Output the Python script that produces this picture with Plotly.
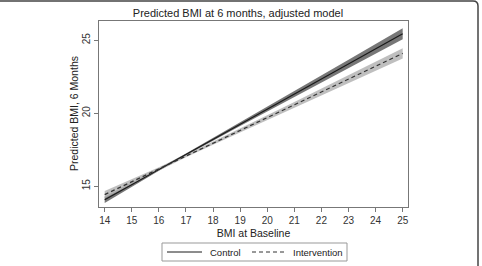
import plotly.graph_objects as go

# Data
bmi_baseline = [14, 15, 16, 17, 18, 19, 20, 21, 22, 23, 24, 25]
control_fit = [14.08, 15.11, 16.15, 17.18, 18.22, 19.25, 20.28, 21.32, 22.35, 23.39, 24.42, 25.45]
control_lo = [13.86, 14.97, 16.07, 17.11, 18.13, 19.13, 20.12, 21.12, 22.11, 23.11, 24.09, 25.07]
control_hi = [14.30, 15.25, 16.23, 17.25, 18.31, 19.37, 20.44, 21.52, 22.59, 23.67, 24.75, 25.83]
interv_fit = [14.43, 15.31, 16.19, 17.07, 17.95, 18.83, 19.71, 20.59, 21.47, 22.34, 23.22, 24.10]
interv_lo = [14.18, 15.14, 16.08, 16.98, 17.85, 18.71, 19.56, 20.40, 21.24, 22.07, 22.91, 23.75]
interv_hi = [14.68, 15.48, 16.30, 17.16, 18.05, 18.95, 19.86, 20.78, 21.70, 22.61, 23.53, 24.45]
series_names = ["Control", "Intervention"]
x_ticks = list(range(14, 26))
y_ticks = [15, 20, 25]

W, H = 482, 266
ML, MR, MT, MB = 99, 74, 21, 59
FONT = "Liberation Sans, Arial, sans-serif"
TXT = "#222222"

fig = go.Figure()

def band(x, lo, hi, color):
    return go.Scatter(x=list(x) + list(x)[::-1], y=list(hi) + list(lo)[::-1],
                      fill="toself", fillcolor=color, line=dict(width=0),
                      mode="lines", hoverinfo="skip", showlegend=False)

CTRL_LINE = dict(color="#1a1a1a", width=1.2)
INT_LINE = dict(color="#333333", width=1.2, dash="4px,3px")

fig.add_trace(band(bmi_baseline, control_lo, control_hi, "rgba(95,95,95,0.85)"))
fig.add_trace(band(bmi_baseline, interv_lo, interv_hi, "rgba(180,180,180,0.85)"))
fig.add_trace(go.Scatter(x=bmi_baseline, y=control_fit, mode="lines", name=series_names[0],
                         line=CTRL_LINE, showlegend=False))
fig.add_trace(go.Scatter(x=bmi_baseline, y=interv_fit, mode="lines", name=series_names[1],
                         line=INT_LINE, showlegend=False))

pw = W - ML - MR
ph = H - MT - MB
def px(xp):
    return (xp - ML) / pw
def py(yp):
    return (H - MB - yp) / ph

# outer frame (top and right edges with a rounded corner)
r = 5
frame_path = (f"M {px(0)},{py(1)} L {px(478 - r)},{py(1)} "
              f"Q {px(478)},{py(1)} {px(478)},{py(1 + r)}")
fig.add_shape(type="path", path=frame_path, xref="paper", yref="paper",
              line=dict(color="#444444", width=1.5))
fig.add_shape(type="line", xref="paper", yref="paper", x0=px(478), x1=px(478),
              y0=py(1 + r), y1=py(267), line=dict(color="#444444", width=1.5))

# y axis title
fig.add_annotation(text="Predicted BMI, 6 Months", xref="paper", yref="paper",
                   x=px(74), y=py(114), textangle=-90, showarrow=False,
                   xanchor="center", yanchor="middle",
                   font=dict(size=10.5, color=TXT))

# legend box (drawn manually)
fig.add_shape(type="rect", xref="paper", yref="paper",
              x0=px(162), x1=px(347), y0=py(243), y1=py(261),
              line=dict(color="#999999", width=1), fillcolor="white")
ly = py(252)
fig.add_shape(type="line", xref="paper", yref="paper", x0=px(167), x1=px(202), y0=ly, y1=ly,
              line=dict(color=CTRL_LINE["color"], width=1))
fig.add_shape(type="line", xref="paper", yref="paper", x0=px(252), x1=px(287), y0=ly, y1=ly,
              line=dict(color=INT_LINE["color"], width=1, dash="4px,3px"))
fig.add_annotation(text=series_names[0], xref="paper", yref="paper", x=px(208), y=ly,
                   xanchor="left", yanchor="middle", showarrow=False,
                   font=dict(size=9.5, color=TXT))
fig.add_annotation(text=series_names[1], xref="paper", yref="paper", x=px(291), y=ly,
                   xanchor="left", yanchor="middle", showarrow=False,
                   font=dict(size=9.5, color=TXT))

fig.update_layout(
    width=W, height=H,
    margin=dict(l=ML, r=MR, t=MT, b=MB, autoexpand=False),
    paper_bgcolor="white", plot_bgcolor="white",
    font=dict(family=FONT, color=TXT, size=10),
    title=dict(text="Predicted BMI at 6 months, adjusted model", x=238 / W, xanchor="center",
               y=1 - 13 / H, yanchor="middle", font=dict(size=11, color=TXT)),
    showlegend=False,
    xaxis=dict(range=[13.79, 25.196], tickvals=x_ticks, ticktext=[str(v) for v in x_ticks],
               showgrid=False, zeroline=False, showline=True, linecolor="#777777", linewidth=1,
               mirror=True, ticks="outside", ticklen=4, tickcolor="#777777",
               tickfont=dict(size=10, color="#333333"), automargin=False,
               title=dict(text="BMI at Baseline", font=dict(size=10.5, color=TXT), standoff=4)),
    yaxis=dict(range=[13.58, 26.32], tickvals=y_ticks, ticktext=[str(v) for v in y_ticks],
               showgrid=False, zeroline=False, showline=True, linecolor="#777777", linewidth=1,
               mirror=True, ticks="outside", ticklen=4, tickcolor="#777777", tickangle=-90,
               tickfont=dict(size=10, color="#333333"), automargin=False),
)

fig.write_html("out.html")
